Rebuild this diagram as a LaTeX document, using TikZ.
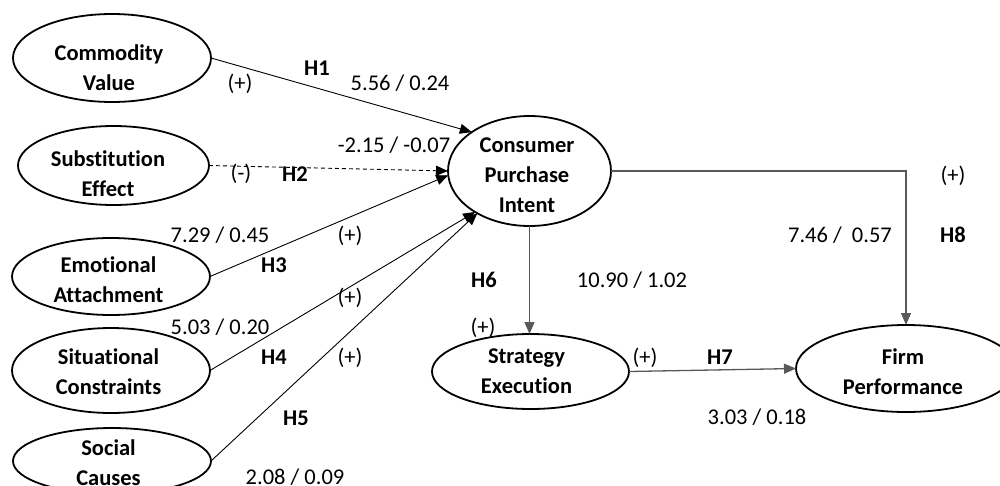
\documentclass[tikz,border=0pt]{standalone}
\usepackage{fontspec}
\setmainfont{Carlito}[Ligatures={NoCommon}]
\usetikzlibrary{shapes.geometric,arrows.meta}
\begin{document}
\begin{tikzpicture}[x=1pt,y=-1pt,
  oval/.style 2 args={ellipse, draw, line width=1.8pt,
    minimum width=#1pt, minimum height=#2pt, inner sep=0pt, outer sep=0pt},
  ntext/.style={font=\fontsize{22.5}{30}\selectfont\bfseries, align=center, inner sep=0pt},
  lab/.style={font=\fontsize{22.5}{27}\selectfont, inner sep=0pt,
    text height=14.5pt, text depth=0pt},
  hyp/.style={lab, font=\fontsize{22.5}{27}\selectfont\bfseries},
  link/.style={line width=0.9pt, -{Triangle[length=12pt,width=10pt]}},
  link2/.style={link, draw=black!65, line width=1.3pt},
]
\useasboundingbox (0,0) rectangle (1000,485);
\clip (0,0) rectangle (1000,485);

% constructs
\node[oval={198}{88}, label={[ntext, xshift=-3pt, yshift=-10pt]center:Commodity\\Value}] (cv) at (112,58) {};
\node[oval={191}{79}, label={[ntext, xshift=-5.5pt, yshift=-8.5pt]center:Substitution\\Effect}] (se) at (113.5,165.5) {};
\node[oval={198}{77}, label={[ntext, xshift=-2.5pt, yshift=-3.5pt]center:Emotional\\Attachment}] (ea) at (111,276.5) {};
\node[oval={198}{85}, label={[ntext, xshift=-2.5pt, yshift=-1pt]center:Situational\\Constraints}] (sc) at (111,370.5) {};
\node[oval={198}{66}, label={[ntext, xshift=-3.5pt, yshift=-2pt]center:Social\\Causes}] (soc) at (112,461) {};
\node[oval={163}{110}, label={[ntext, xshift=-2.5pt, yshift=-4pt]center:Consumer\\Purchase\\Intent}] (cpi) at (529.5,171) {};
\node[oval={197}{75}, label={[ntext, xshift=-4pt]center:Strategy\\Execution}] (strat) at (530.5,371.5) {};
\node[oval={220}{87}, label={[ntext, xshift=-3pt, yshift=-3pt]center:Firm\\Performance}] (firm) at (906,368.5) {};

% hypothesised paths
\draw[link] (cv.east) -- (cpi.146);
\draw[link, dash pattern=on 4pt off 3pt] (se.east) -- (cpi.west);
\draw[link] (ea.east) -- (cpi.183);
\draw[link] (sc.east) -- (cpi.217);
\draw[link] (soc.east) -- (cpi.219);
\draw[link2] (cpi.south) -- (cpi.south |- strat.north);
\draw[link2] (strat.east) -- (firm.west);
\draw[link2] (cpi.east) -| (firm.north);

% path labels
\node[hyp] (h1) at (317,68) {H1};
\node[lab] (s1) at (240,83) {(+)};
\node[lab] (v1) at (400,83) {5.56 / 0.24};
\node[lab] (v2) at (394,145) {-2.15 / -0.07};
\node[lab] (s2) at (241,173) {(-)};
\node[hyp] (h2) at (295,174) {H2};
\node[lab] (v3) at (220,235) {7.29 / 0.45};
\node[lab] (s3) at (350,235) {(+)};
\node[hyp] (h3) at (274,265) {H3};
\node[lab] (s4) at (350,297) {(+)};
\node[lab] (v4) at (220,327) {5.03 / 0.20};
\node[hyp] (h4) at (274,357) {H4};
\node[lab] (s5) at (350,357) {(+)};
\node[hyp] (h5) at (296,418) {H5};
\node[lab] (v5) at (295,477) {2.08 / 0.09};
\node[hyp] (h6) at (484,280) {H6};
\node[lab] (v6) at (632,280) {10.90 / 1.02};
\node[lab] (s6) at (483,327) {(+)};
\node[lab] (s7) at (645,357) {(+)};
\node[hyp] (h7) at (720,357) {H7};
\node[lab] (v7) at (757,417) {3.03 / 0.18};
\node[lab] (s8) at (953,175) {(+)};
\node[hyp] (h8) at (953,235) {H8};
\node[lab] (v8) at (840,235) {7.46 /\ \ 0.57};
\end{tikzpicture}
\end{document}
